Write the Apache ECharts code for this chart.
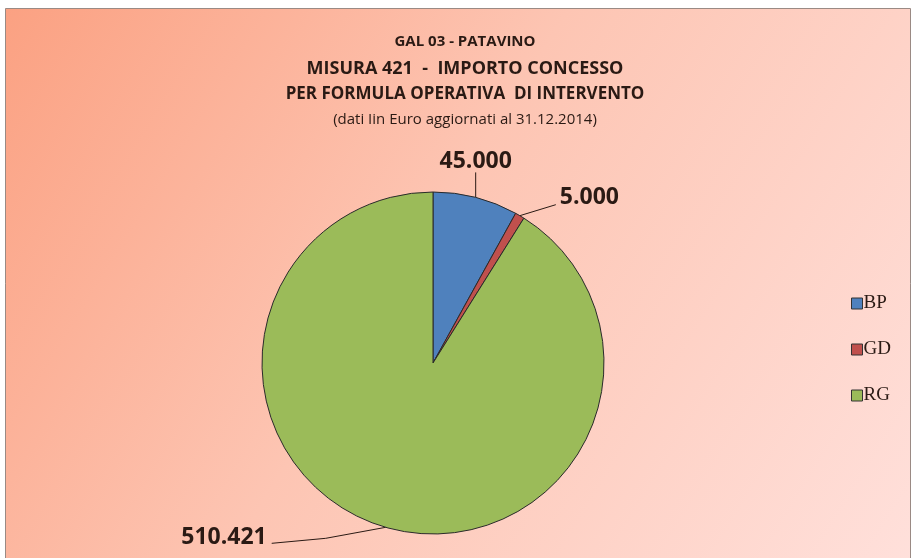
<!DOCTYPE html>
<html>
<head>
<meta charset="utf-8">
<script src="https://cdn.jsdelivr.net/npm/echarts@6/dist/echarts.min.js"></script>
<style>html,body{margin:0;padding:0;background:#fff;}#c{width:916px;height:558px;}</style>
</head>
<body>
<div id="c"></div>
<script>
const categories = ['BP', 'GD', 'RG'];
const values = [45000, 5000, 510421];
const colors = ['#4F81BD', '#C0504D', '#9BBB59'];
const titleLines = ['GAL 03 - PATAVINO', 'MISURA 421  -  IMPORTO CONCESSO', 'PER FORMULA OPERATIVA  DI INTERVENTO', '(dati Iin Euro aggiornati al 31.12.2014)'];

function fmt(v) {
  return String(v).replace(/\B(?=(\d{3})+(?!\d))/g, '.');
}

const chart = echarts.init(document.getElementById('c'));
const font = '"Open Sans", "Liberation Sans", sans-serif';
const txt = '#2a1a14';
chart.setOption({
  backgroundColor: '#ffffff',
  graphic: [{
    type: 'rect', z: -10, silent: true,
    shape: { x: 5.5, y: 8.5, width: 905, height: 560 },
    style: {
      fill: new echarts.graphic.LinearGradient(0, 0, 1, 1, [
        { offset: 0, color: '#FBA182' },
        { offset: 0.45, color: '#FDC5B3' },
        { offset: 1, color: '#FFE0DB' }
      ]),
      stroke: '#9a8a84', lineWidth: 1
    }
  }],
  title: [
    { text: titleLines[0], left: 460, top: 29, textAlign: 'center', textStyle: { fontFamily: font, fontSize: 15, fontWeight: 'bold', color: txt } },
    { text: titleLines[1], left: 460, top: 55, textAlign: 'center', textStyle: { fontFamily: font, fontSize: 18, fontWeight: 'bold', color: txt } },
    { text: titleLines[2], left: 460, top: 81, textAlign: 'center', textStyle: { fontFamily: font, fontSize: 17, fontWeight: 'bold', color: txt } },
    { text: titleLines[3], left: 460, top: 107, textAlign: 'center', textStyle: { fontFamily: font, fontSize: 15, fontWeight: 'normal', color: txt } }
  ],
  legend: {
    orient: 'vertical', left: 846, top: 289, itemGap: 27,
    itemWidth: 11, itemHeight: 11, icon: 'rect',
    itemStyle: { borderColor: '#333', borderWidth: 1 },
    textStyle: { fontFamily: '"Liberation Serif", serif', fontSize: 19, lineHeight: 18, color: txt, padding: [0, 0, 0, -4] },
    data: categories
  },
  series: [{
    type: 'pie',
    center: [433, 363],
    radius: 171,
    startAngle: 90,
    clockwise: true,
    animation: false,
    color: colors,
    itemStyle: { borderColor: '#2a2a2a', borderWidth: 1 },
    label: {
      show: true, position: 'outside',
      formatter: p => fmt(p.value),
      fontFamily: font, fontSize: 23, fontWeight: 'bold', color: txt
    },
    labelLine: { show: true, length: 15, length2: 30, lineStyle: { color: txt, width: 1 } },
    labelLayout: function (params) {
      const pts = params.labelLinePoints;
      if (!pts) return {};
      const p = pts[0];
      if (params.dataIndex === 0) {
        return { x: p[0], y: p[1] - 24, align: 'center', verticalAlign: 'bottom',
          labelLinePoints: [p, [p[0], p[1] - 25], [p[0], p[1] - 25]] };
      } else if (params.dataIndex === 1) {
        return { x: p[0] + 40, y: p[1] - 18, align: 'left', verticalAlign: 'middle',
          labelLinePoints: [p, [p[0] + 36, p[1] - 11], [p[0] + 36, p[1] - 11]] };
      } else {
        return { x: p[0] - 119, y: p[1] + 10, align: 'right', verticalAlign: 'middle',
          labelLinePoints: [p, [p[0] - 60, p[1] + 11], [p[0] - 114, p[1] + 16]] };
      }
    },
    emphasis: { disabled: true },
    data: categories.map((c, i) => ({ name: c, value: values[i] }))
  }]
});
</script>
</body>
</html>
